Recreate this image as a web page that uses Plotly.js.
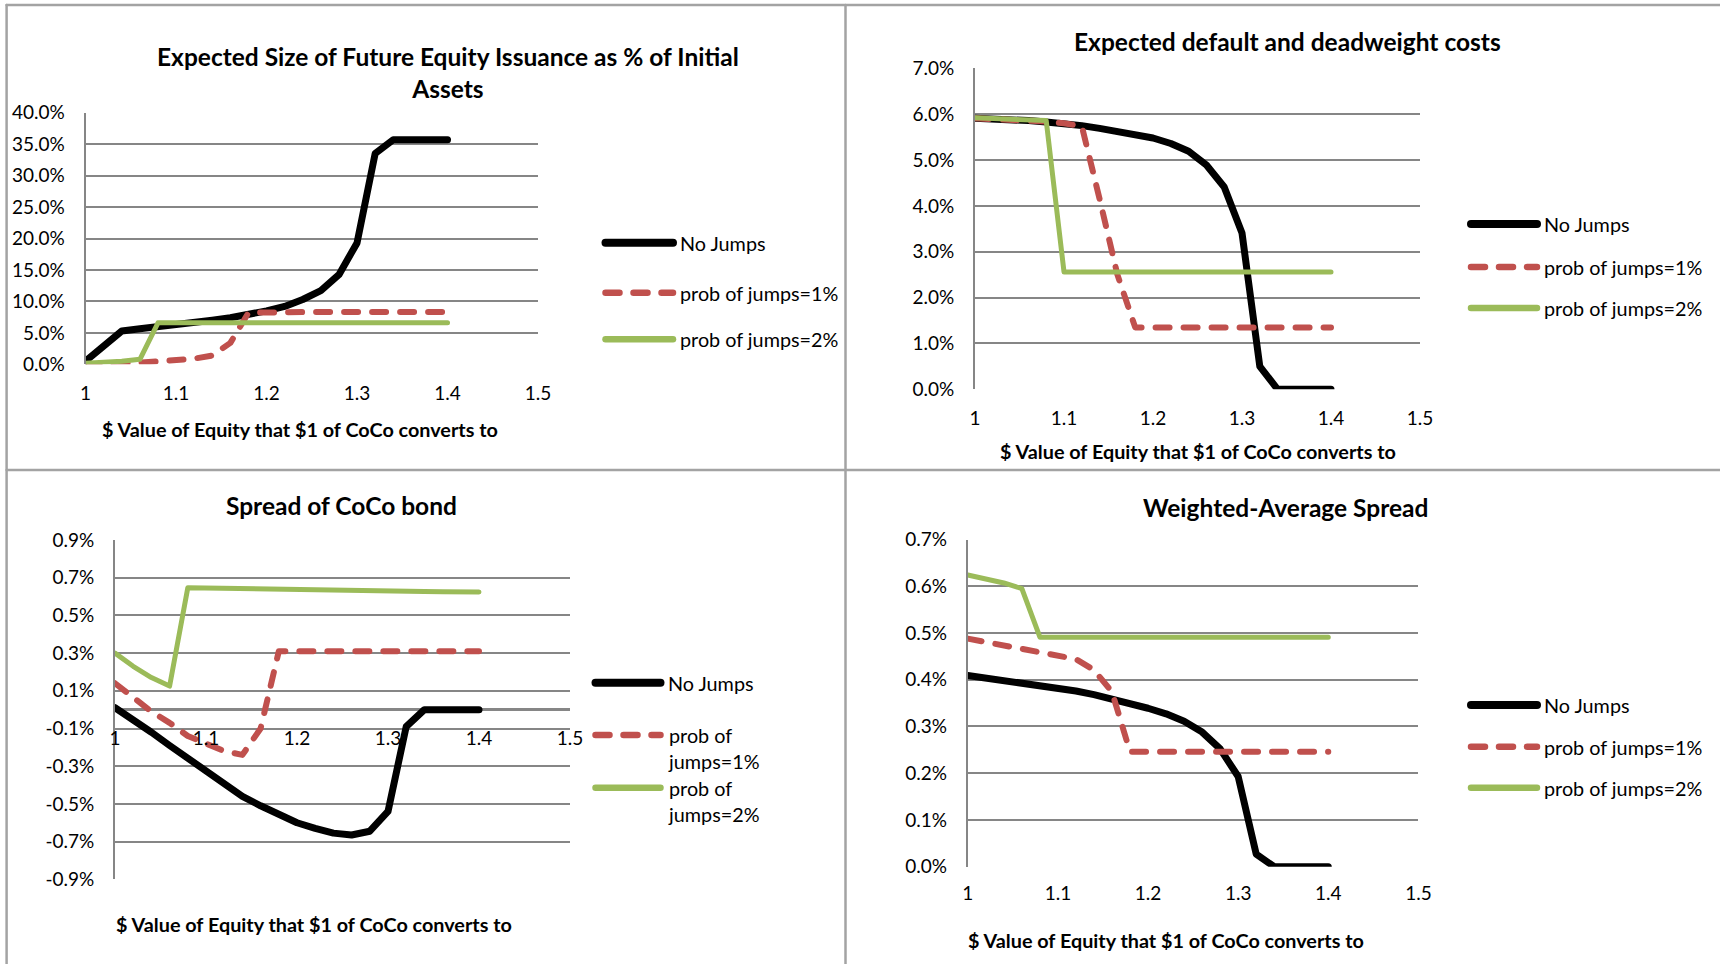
<!DOCTYPE html>
<html>
<head>
<meta charset="utf-8">
<script src="https://cdn.plot.ly/plotly-3.0.1.min.js"></script>
<style>
html,body{margin:0;padding:0;background:#fff;overflow:hidden;}
#chart{width:1720px;height:964px;}
.scatterlayer .js-line{stroke-linecap:round;stroke-linejoin:round;}
.shapelayer path{stroke-linecap:round;}
</style>
</head>
<body>
<div id="chart"></div>
<script>
// ---------------- data ----------------
const xValues = [1.00,1.02,1.04,1.06,1.08,1.10,1.12,1.14,1.16,1.18,1.20,1.22,1.24,1.26,1.28,1.30,1.32,1.34,1.36,1.38,1.40];
const seriesNames = ['No Jumps','prob of jumps=1%','prob of jumps=2%'];
const xTickVals = [1,1.1,1.2,1.3,1.4,1.5];
const xTickText = ['1','1.1','1.2','1.3','1.4','1.5'];

const chartTitles = ['Expected Size of Future Equity Issuance as % of Initial<br>Assets',
                     'Expected default and deadweight costs',
                     'Spread of CoCo bond',
                     'Weighted-Average Spread'];
const xAxisTitle = '$ Value of Equity that $1 of CoCo converts to';

// Panel 1: Expected size of future equity issuance (% of initial assets)
const issuanceNoJumps = [0.5,3.0,5.3,5.65,5.95,6.2,6.6,7.0,7.4,7.9,8.5,9.2,10.3,11.7,14.25,19.3,33.5,35.7,35.7,35.7,35.7];
const issuanceJump1   = [0.0,0.0,0.15,0.25,0.4,0.7,0.9,1.4,3.4,8.2,8.3,8.3,8.3,8.3,8.3,8.3,8.3,8.3,8.3,8.3,8.3];
const issuanceJump2   = [0.15,0.25,0.5,0.8,6.6,6.6,6.6,6.6,6.6,6.6,6.6,6.6,6.6,6.6,6.6,6.6,6.6,6.6,6.6,6.6,6.6];

// Panel 2: Expected default and deadweight costs (%)
const costsNoJumps = [5.91,5.90,5.88,5.86,5.83,5.80,5.75,5.69,5.63,5.56,5.48,5.36,5.19,4.89,4.41,3.41,0.50,0.0,0.0,0.0,0.0];
const costsJump1   = [5.91,5.90,5.88,5.86,5.84,5.80,5.74,4.15,2.5,1.35,1.35,1.35,1.35,1.35,1.35,1.35,1.35,1.35,1.35,1.35,1.35];
const costsJump2   = [5.92,5.90,5.89,5.87,5.86,2.56,2.56,2.56,2.56,2.56,2.56,2.56,2.56,2.56,2.56,2.56,2.56,2.56,2.56,2.56,2.56];

// Panel 3: Spread of CoCo bond (%)
const cocoNoJumps = [0.01,-0.05,-0.12,-0.19,-0.26,-0.33,-0.40,-0.46,-0.51,-0.56,-0.60,-0.63,-0.655,-0.665,-0.645,-0.54,-0.09,0.0,0.0,0.0,0.0];
const cocoJump1   = [0.14,0.06,-0.01,-0.07,-0.14,-0.18,-0.22,-0.24,-0.10,0.31,0.31,0.31,0.31,0.31,0.31,0.31,0.31,0.31,0.31,0.31,0.31];
const cocoJump2   = [0.30,0.23,0.17,0.125,0.647,0.645,0.644,0.642,0.641,0.639,0.638,0.636,0.635,0.633,0.632,0.630,0.629,0.627,0.626,0.625,0.624];
const cocoTickVals = [-0.9,-0.7,-0.5,-0.3,-0.1,0.1,0.3,0.5,0.7,0.9];
const cocoTickText = ['-0.9%','-0.7%','-0.5%','-0.3%','-0.1%','0.1%','0.3%','0.5%','0.7%','0.9%'];

// Panel 4: Weighted-average spread (%)
const wavgNoJumps = [0.409,0.404,0.399,0.394,0.389,0.383,0.376,0.368,0.359,0.350,0.339,0.327,0.311,0.288,0.252,0.193,0.027,0.0,0.0,0.0,0.0];
const wavgJump1   = [0.488,0.481,0.475,0.468,0.461,0.454,0.444,0.421,0.374,0.246,0.246,0.246,0.246,0.246,0.246,0.246,0.246,0.246,0.246,0.246,0.246];
const wavgJump2   = [0.624,0.615,0.607,0.595,0.491,0.491,0.491,0.491,0.491,0.491,0.491,0.491,0.491,0.491,0.491,0.491,0.491,0.491,0.491,0.491,0.491];

// ---------------- styling / layout ----------------
const W = 1720, H = 964;
const px = x => x / W;
const py = y => 1 - y / H;
const FONT = 'Lato, "Open Sans", sans-serif';
const GRID = '#868686';
const BORDER = '#a3a3a3';
const colors = ['#000000','#c0504d','#9bbb59'];
const widths = [7,6,5];
const dashes = ['solid','14px,14px','solid'];
const legWidths = [8,6.5,6.5];

const panels = [
  {series:[issuanceNoJumps,issuanceJump1,issuanceJump2], x0:85.6, x1:538, y0:112.7, y1:364.3,
   yax:{range:[0,40], dtick:5, tick0:0, tickformat:'.1f', ticksuffix:'%'}, xstand:16,
   title:{x:448.5, y:72.5}, axTitle:{x:300, y:429}, leg:{sx0:605.5, sx1:673, tx:677.5, ys:[242.7,292.7,339.3]}},
  {series:[costsNoJumps,costsJump1,costsJump2], x0:975, x1:1420, y0:68.3, y1:389.3,
   yax:{range:[0,7], dtick:1, tick0:0, tickformat:'.1f', ticksuffix:'%'}, xstand:16,
   title:{x:1287.8, y:42}, axTitle:{x:1198, y:451}, leg:{sx0:1471, sx1:1537, tx:1542, ys:[224,267,308]}},
  {series:[cocoNoJumps,cocoJump1,cocoJump2], x0:115, x1:570, y0:540, y1:879.3,
   yax:{range:[-0.9,0.9], tickvals:cocoTickVals, ticktext:cocoTickText}, xstand:15,
   title:{x:341.5, y:505}, axTitle:{x:313.8, y:924.3}, leg:{sx0:595.5, sx1:660.5, tx:666, ys:[682.7,748,800.7], wrap:true}},
  {series:[wavgNoJumps,wavgJump1,wavgJump2], x0:967.8, x1:1418.4, y0:539.5, y1:866.7,
   yax:{range:[0,0.7], dtick:0.1, tick0:0, tickformat:'.1f', ticksuffix:'%'}, xstand:13,
   title:{x:1285.8, y:507}, axTitle:{x:1166, y:940}, leg:{sx0:1471, sx1:1537, tx:1542, ys:[705,746.7,787.7]}}
];

const traces = [];
const layout = {
  width: W, height: H,
  margin: {l:0, r:0, t:0, b:0, pad:0},
  paper_bgcolor: '#ffffff', plot_bgcolor: '#ffffff',
  showlegend: false,
  font: {family: FONT, color: '#000000'},
  shapes: [], annotations: []
};

panels.forEach((p, i) => {
  const n = i === 0 ? '' : String(i + 1);
  const xa = 'x' + n, ya = 'y' + n;
  p.series.forEach((vals, k) => {
    traces.push({
      type: 'scatter', mode: 'lines', x: xValues, y: vals, name: seriesNames[k],
      xaxis: xa, yaxis: ya, cliponaxis: false, hoverinfo: 'skip',
      line: {color: colors[k], width: widths[k], dash: dashes[k], shape: 'linear'}
    });
  });
  const isCoco = i === 2;
  const xax = {
    domain: [px(p.x0), px(p.x1)], range: [1, 1.5],
    tickvals: xTickVals, ticktext: xTickText,
    showgrid: false, zeroline: false, showline: false, ticks: '',
    ticklabelstandoff: p.xstand,
    tickfont: {family: FONT, size: 19, color: '#000'},
    anchor: isCoco ? 'free' : ya,
    fixedrange: true
  };
  if (isCoco) xax.position = (py(p.y1) + py(p.y0)) / 2;
  layout['xaxis' + n] = xax;
  layout['yaxis' + n] = Object.assign({
    domain: [py(p.y1), py(p.y0)], anchor: xa,
    showgrid: true, gridcolor: GRID, gridwidth: 2,
    showline: true, linecolor: GRID, linewidth: 2,
    zeroline: isCoco, zerolinecolor: GRID, zerolinewidth: 3.5,
    ticks: '', ticklabelstandoff: 15,
    tickfont: {family: FONT, size: 19, color: '#000'},
    fixedrange: true
  }, p.yax);

  // chart title
  layout.annotations.push({xref:'paper', yref:'paper', x:px(p.title.x), y:py(p.title.y),
    xanchor:'center', yanchor:'middle', showarrow:false, text:'<b>' + chartTitles[i] + '</b>',
    font:{family:FONT, size:24.5, color:'#000'}, align:'center'});
  // x axis title
  layout.annotations.push({xref:'paper', yref:'paper', x:px(p.axTitle.x), y:py(p.axTitle.y),
    xanchor:'center', yanchor:'middle', showarrow:false, text:'<b>' + xAxisTitle + '</b>',
    font:{family:FONT, size:19.8, color:'#000'}});
  // legend (samples + labels)
  seriesNames.forEach((name, k) => {
    const yy = p.leg.ys[k];
    const sampleY = (p.leg.wrap && k > 0) ? yy - 13 : yy;
    layout.shapes.push({type:'line', xref:'paper', yref:'paper',
      x0:px(p.leg.sx0), x1:px(p.leg.sx1), y0:py(sampleY), y1:py(sampleY),
      line:{color:colors[k], width:legWidths[k], dash:dashes[k]}});
    const label = (p.leg.wrap && k > 0) ? name.replace('prob of ', 'prob of<br>') : name;
    layout.annotations.push({xref:'paper', yref:'paper', x:px(p.leg.tx), y:py(yy),
      xanchor:'left', yanchor:'middle', showarrow:false, text:label, align:'left',
      font:{family:FONT, size:19.8, color:'#000'}});
  });
});

// panel borders
const borderLines = [
  [6.6, 5, 6.6, 964], [6.6, 5, 1720, 5], [845.5, 5, 845.5, 964], [6.6, 470, 1720, 470]
];
borderLines.forEach(b => layout.shapes.push({type:'line', xref:'paper', yref:'paper', layer:'below',
  x0:px(b[0]), y0:py(b[1]), x1:px(b[2]), y1:py(b[3]), line:{color:BORDER, width:2.5}}));

Plotly.newPlot('chart', traces, layout, {staticPlot: true, displayModeBar: false});
</script>
</body>
</html>
